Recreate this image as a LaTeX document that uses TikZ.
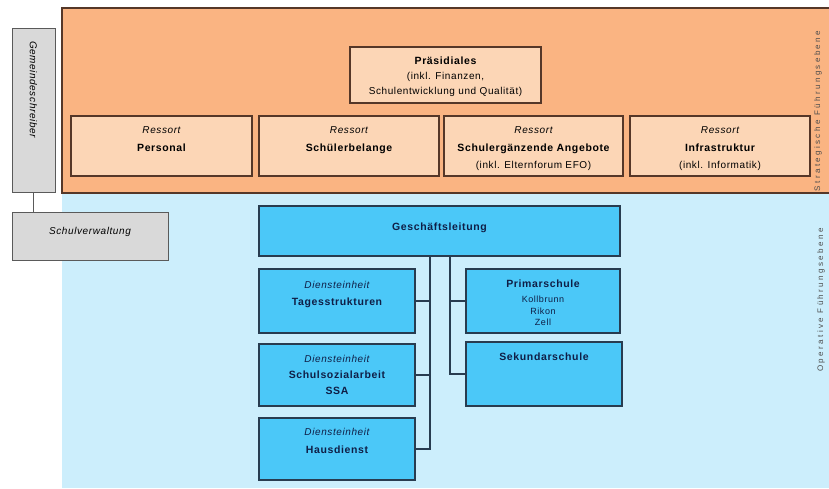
\documentclass[tikz,border=0pt]{standalone}
\usepackage{fontspec}
\setmainfont[LetterSpace=6]{Liberation Sans}

\definecolor{orangebg}{RGB}{250,180,130}
\definecolor{peach}{RGB}{252,214,182}
\definecolor{brownline}{RGB}{85,55,40}
\definecolor{bluebg}{RGB}{204,238,252}
\definecolor{bluebox}{RGB}{75,200,248}
\definecolor{blueline}{RGB}{40,60,80}
\definecolor{navy}{RGB}{15,30,70}
\definecolor{greybox}{RGB}{217,217,217}
\definecolor{greyline}{RGB}{90,90,90}

% box text: width, height, top gap, line skip, content
\newcommand{\boxtxt}[5]{\parbox[c][#2][t]{#1}{\fontsize{10}{#4}\selectfont\centering\vspace*{#3}#5\par}}
\newcommand{\art}[1]{{\fontsize{10}{12}\selectfont\itshape #1}}
\newcommand{\titel}[1]{{\fontsize{10.5}{13}\selectfont\bfseries #1}}
\newcommand{\klein}[1]{{\fontsize{9}{11}\selectfont #1}}

\tikzset{
  ressort/.style={draw=brownline, fill=peach, line width=1.2pt, inner sep=0pt},
  dienst/.style={draw=blueline, fill=bluebox, line width=1.2pt, inner sep=0pt, text=navy},
  verw/.style={draw=greyline, fill=greybox, line width=1pt, inner sep=0pt},
  link/.style={draw=blueline, line width=1.3pt},
  ebene/.style={font=\fontsize{8}{9}\selectfont\addfontfeature{LetterSpace=30}, text=black!70}
}

\begin{document}
\begin{tikzpicture}[x=1pt, y=-1pt]
    \useasboundingbox (0,0) rectangle (829,488);

    % the two levels
    \fill[bluebg] (62,193) rectangle (829,488);
    \draw[brownline, line width=2pt, fill=orangebg] (62,8) rectangle (845,193);

    \node[ebene, rotate=90] (strat) at (818,111) {Strategische Führungsebene};
    \node[ebene, rotate=90] (oper) at (821,300) {Operative Führungsebene};

    % left side
    \node[verw, rotate=-90] (gemeinde) at (33.5,110)
        {\parbox[c][43pt][c]{164pt}{\hspace*{13pt}\art{Gemeindeschreiber}}};
    \node[verw] (schulverw) at (90,236)
        {\boxtxt{156pt}{48pt}{15pt}{14pt}{\art{Schulverwaltung}}};
    \draw[greyline, line width=1pt] (gemeinde.east) -- (gemeinde.east |- schulverw.north);

    % strategic level
    \node[ressort] (praes) at (445.5,75)
        {\boxtxt{191pt}{56pt}{10pt}{15pt}{\titel{Präsidiales}\\(inkl. Finanzen,\\Schulentwicklung und Qualität)}};

    \node[ressort] (personal) at (161.5,146)
        {\boxtxt{181pt}{60pt}{11pt}{17.5pt}{\art{Ressort}\\\titel{Personal}}};
    \node[ressort] (schueler) at (349,146)
        {\boxtxt{180pt}{60pt}{11pt}{17.5pt}{\art{Ressort}\\\titel{Schülerbelange}}};
    \node[ressort] (angebote) at (533.5,146)
        {\boxtxt{179pt}{60pt}{11pt}{17.5pt}{\art{Ressort}\\\titel{Schulergänzende Angebote}\\(inkl. Elternforum EFO)}};
    \node[ressort] (infra) at (720,146)
        {\boxtxt{180pt}{60pt}{11pt}{17.5pt}{\art{Ressort}\\\titel{Infrastruktur}\\(inkl. Informatik)}};

    % operative level
    \node[dienst] (gl) at (439.5,231)
        {\boxtxt{361pt}{50pt}{17pt}{14pt}{\titel{Geschäftsleitung}}};

    \node[dienst] (tages) at (337,301)
        {\boxtxt{156pt}{64pt}{12pt}{17pt}{\art{Diensteinheit}\\\titel{Tagesstrukturen}}};
    \node[dienst] (ssa) at (337,375)
        {\boxtxt{156pt}{62pt}{11pt}{16pt}{\art{Diensteinheit}\\\titel{Schulsozialarbeit}\\\titel{SSA}}};
    \node[dienst] (haus) at (337,449)
        {\boxtxt{156pt}{62pt}{10pt}{18pt}{\art{Diensteinheit}\\\titel{Hausdienst}}};

    \node[dienst] (primar) at (543,301)
        {\boxtxt{154pt}{64pt}{11pt}{11.5pt}{\titel{Primarschule}\\[3.5pt]\klein{Kollbrunn}\\\klein{Rikon}\\\klein{Zell}}};
    \node[dienst] (sek) at (544,374)
        {\boxtxt{156pt}{64pt}{11pt}{14pt}{\titel{Sekundarschule}}};

    % connectors
    \coordinate (lbus) at (430,0);
    \coordinate (rbus) at (450,0);
    \draw[link] (gl.south -| lbus) |- (haus.east);
    \draw[link] (tages.east) -- (tages.east -| lbus);
    \draw[link] (ssa.east) -- (ssa.east -| lbus);
    \draw[link] (gl.south -| rbus) |- (sek.west);
    \draw[link] (primar.west) -- (primar.west -| rbus);
\end{tikzpicture}
\end{document}
